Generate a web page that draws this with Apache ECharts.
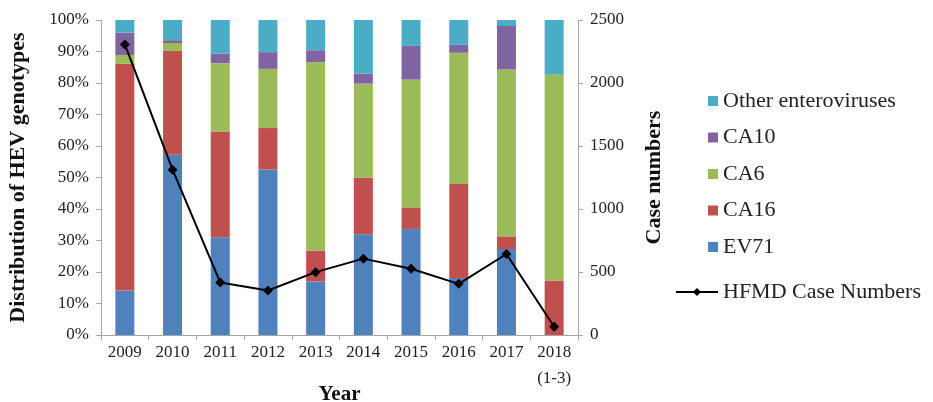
<!DOCTYPE html>
<html>
<head>
<meta charset="utf-8">
<script src="https://cdn.jsdelivr.net/npm/echarts@6/dist/echarts.min.js"></script>
<style>
  html, body { margin: 0; padding: 0; background: #fff; }
  #main { width: 933px; height: 402px; }
</style>
</head>
<body>
<div id="main"></div>
<script>
// 年份
var years = ['2009', '2010', '2011', '2012', '2013', '2014', '2015', '2016', '2017', '2018\n(1-3)'];
// 各型别构成比 (%)
var ev71  = [14.1, 57.2, 31.0, 52.5, 17.0, 32.0, 33.7, 18.1, 27.3, 0];
var ca16  = [72.0, 33.0, 33.6, 13.2, 9.8, 17.9, 6.8, 29.8, 4.0, 17.3];
var ca6   = [2.8, 2.5, 21.7, 18.8, 59.8, 29.9, 40.6, 41.7, 53.0, 65.3];
var ca10  = [7.1, 0.9, 3.0, 5.3, 3.8, 3.1, 10.7, 2.5, 13.8, 0];
var other = [4.0, 6.4, 10.7, 10.2, 9.6, 17.1, 8.2, 7.9, 1.9, 17.4];
// 手足口病例数
var cases = [2306, 1312, 417, 353, 499, 606, 526, 406, 643, 66];

var font = 'Liberation Serif';
var axisGray = '#a6a6a6';

var chart = echarts.init(document.getElementById('main'));

function bar(name, data, color) {
  return {
    name: name,
    type: 'bar',
    stack: 'g',
    barWidth: 19,
    data: data,
    itemStyle: { color: color },
    emphasis: { disabled: true }
  };
}

chart.setOption({
  animation: false,
  textStyle: { fontFamily: font },
  grid: { left: 101, right: 355, top: 20, bottom: 67, outerBoundsMode: 'none' },
  legend: [{
    orient: 'vertical',
    left: 703,
    top: 85,
    itemWidth: 10,
    itemHeight: 10,
    itemGap: 14.5,
    icon: 'rect',
    textStyle: { fontFamily: font, fontSize: 22, color: '#222' },
    data: ['Other enteroviruses', 'CA10', 'CA6', 'CA16', 'EV71']
  }, {
    left: 670,
    top: 276,
    itemWidth: 42,
    itemHeight: 10,
    textStyle: { fontFamily: font, fontSize: 22, color: '#222' },
    data: ['HFMD Case Numbers']
  }],
  xAxis: {
    type: 'category',
    data: years,
    name: 'Year',
    nameLocation: 'middle',
    nameGap: 49,
    nameMoveOverlap: false,
    nameTextStyle: { fontFamily: font, fontSize: 21, fontWeight: 'bold', color: '#111' },
    axisLine: { lineStyle: { color: axisGray } },
    axisTick: { show: true, alignWithLabel: false, length: 5, lineStyle: { color: axisGray } },
    axisLabel: { fontFamily: font, fontSize: 17, color: '#222', margin: 5, lineHeight: 26, interval: 0 }
  },
  yAxis: [{
    type: 'value',
    min: 0,
    max: 100,
    interval: 10,
    name: 'Distribution of HEV genotypes',
    nameLocation: 'middle',
    nameRotate: 90,
    nameGap: 72,
    nameTextStyle: { fontFamily: font, fontSize: 22, fontWeight: 'bold', color: '#111' },
    splitLine: { show: false },
    axisLine: { show: true, lineStyle: { color: axisGray } },
    axisTick: { show: true, length: 5, lineStyle: { color: axisGray } },
    axisLabel: { fontFamily: font, fontSize: 17, color: '#222', margin: 12, formatter: '{value}%' }
  }, {
    type: 'value',
    min: 0,
    max: 2500,
    interval: 500,
    name: 'Case numbers',
    nameLocation: 'middle',
    nameRotate: 90,
    nameGap: 65,
    nameTextStyle: { fontFamily: font, fontSize: 22, fontWeight: 'bold', color: '#111' },
    splitLine: { show: false },
    axisLine: { show: true, lineStyle: { color: axisGray } },
    axisTick: { show: true, length: 5, lineStyle: { color: axisGray } },
    axisLabel: {
      fontFamily: font, fontSize: 17, color: '#222', margin: 12,
      formatter: function (v) { return String(v); }
    }
  }],
  series: [
    bar('EV71', ev71, '#4f81bd'),
    bar('CA16', ca16, '#c0504d'),
    bar('CA6', ca6, '#9bbb59'),
    bar('CA10', ca10, '#8064a2'),
    bar('Other enteroviruses', other, '#4bacc6'),
    {
      name: 'HFMD Case Numbers',
      type: 'line',
      yAxisIndex: 1,
      data: cases,
      symbol: 'diamond',
      symbolSize: 10,
      lineStyle: { color: '#000', width: 2 },
      itemStyle: { color: '#000' },
      emphasis: { disabled: true },
      z: 5
    }
  ]
});
</script>
</body>
</html>
